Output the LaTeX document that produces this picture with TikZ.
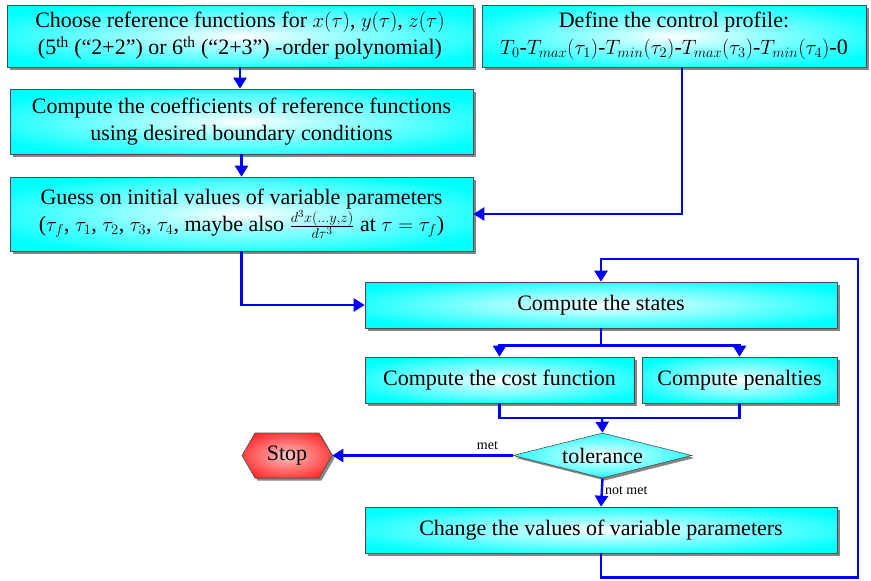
\documentclass[tikz,border=0pt]{standalone}
\usepackage{fontspec}
\setmainfont{Liberation Serif}
\usetikzlibrary{shapes.geometric,shapes.symbols,shadows,arrows.meta}

\pgfdeclareradialshading{cyanglow}{\pgfpoint{0bp}{0bp}}{%
  color(0bp)=(white); color(8bp)=(white!70!cyan); color(30bp)=(cyan); color(50bp)=(cyan)}
\pgfdeclareradialshading{redglow}{\pgfpoint{0bp}{0bp}}{%
  color(0bp)=(red!20!white); color(10bp)=(red!45!white); color(30bp)=(red!85!white); color(50bp)=(red!85!white)}

\tikzset{
  procbox/.style={draw=black!70, line width=0.6pt, shading=cyanglow,
    drop shadow={shadow xshift=2.5pt, shadow yshift=-2.5pt, fill=black!60, opacity=0.8},
    align=center, inner sep=0pt, font=\rmfamily\fontsize{22}{27}\selectfont},
  decide/.style={procbox, diamond, aspect=4},
  stopsign/.style={procbox, signal, signal to=west and east, signal pointer angle=120,
    shading=redglow},
  flow/.style={draw=blue, line width=2.4pt, -{Triangle[length=11pt,width=13pt]}},
  flowplain/.style={draw=blue, line width=2.4pt},
  flowlabel/.style={font=\rmfamily\fontsize{14}{16}\selectfont, inner sep=2pt}
}

\begin{document}
\begin{tikzpicture}[x=1pt,y=-1pt]
  \useasboundingbox (0,0) rectangle (871,581);

  % Define the boxes of the preparation stage (top left and top right)
  \node[procbox, minimum width=466, minimum height=62] (choose) at (240,36)
    {Choose reference functions for $x(\tau)$, $y(\tau)$, $z(\tau)$\\
     (5\textsuperscript{th} (“2+2”) or 6\textsuperscript{th} (“2+3”) -order polynomial)};
  \node[procbox, minimum width=384, minimum height=62] (profile) at (674,36)
    {Define the control profile:\\
     $T_0$-$T_{max}(\tau_1)$-$T_{min}(\tau_2)$-$T_{max}(\tau_3)$-$T_{min}(\tau_4)$-0};
  \node[procbox, minimum width=463, minimum height=65] (coeff) at (241.5,121.5)
    {Compute the coefficients of reference functions\\
     using desired boundary conditions};
  \node[procbox, minimum width=463, minimum height=74] (guess) at (241.5,214)
    {Guess on initial values of variable parameters\\
     ($\tau_f$, $\tau_1$, $\tau_2$, $\tau_3$, $\tau_4$, maybe also $\frac{d^3x(\ldots y,z)}{d\tau^3}$ at $\tau=\tau_f$)};

  % Define the boxes of the iteration loop
  \node[procbox, minimum width=472, minimum height=46] (states) at (601,305) {Compute the states};
  \node[procbox, minimum width=269, minimum height=46] (cost) at (499.5,380) {Compute the cost function};
  \node[procbox, minimum width=195, minimum height=46] (penalty) at (739.5,380) {Compute penalties};
  \node[decide, minimum width=179, minimum height=45] (tol) at (602.5,455.5) {tolerance};
  \node[stopsign, minimum width=90, minimum height=45] (stop) at (287,455.5) {Stop};
  \node[procbox, minimum width=472, minimum height=46] (change) at (601,530)
    {Change the values of variable parameters};

  % Helper points for the bends
  \coordinate (join) at (602,418);
  \coordinate (loopcorner) at (858,259);

  % Draw the connectors of the preparation stage
  \draw[flow] (choose.south) -- (choose.south |- coeff.north);
  \draw[flow] (coeff.south) -- (guess.north);
  \draw[flow] ([xshift=8pt]profile.south) |- (guess.east);
  \draw[flow] (guess.south) |- (states.west);

  % Draw the connectors of the iteration loop
  \draw[flow] (states.south) -- ++(0,17) -| (cost.north);
  \draw[flow] (states.south) -- ++(0,17) -| (penalty.north);
  \draw[flowplain] (cost.south) |- (join) -| (penalty.south);
  \draw[flow] (join) -- (tol.north);
  \draw[flow] (tol.west) -- node[flowlabel, above, pos=0.14, yshift=3pt] {met} (stop.east);
  \draw[flow] (tol.south) -- node[flowlabel, right, pos=0.45] {not met} (change.north);
  \draw[flow] (change.south) -- ++(0,24) -| (loopcorner) -| (states.north);
\end{tikzpicture}
\end{document}
